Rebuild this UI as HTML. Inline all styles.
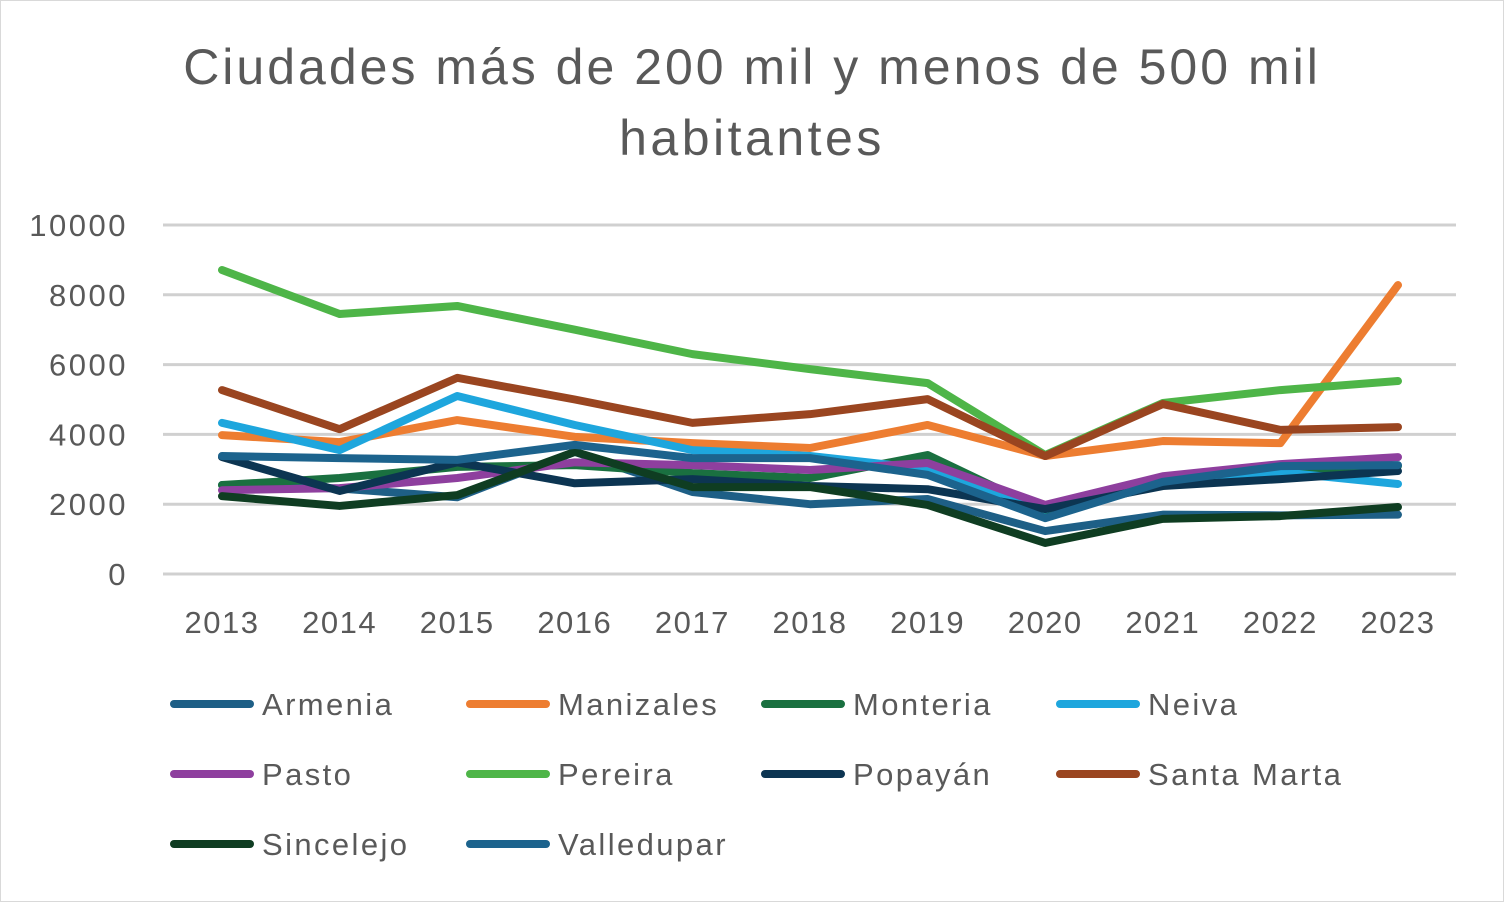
<!DOCTYPE html>
<html><head><meta charset="utf-8">
<style>
html,body{margin:0;padding:0;background:#fff;}
svg{display:block;font-family:"Liberation Sans",sans-serif;}
</style></head>
<body>
<svg id="chart" width="1504" height="902" viewBox="0 0 1504 902">
<rect x="0.5" y="0.5" width="1503" height="901" fill="#fff" stroke="#d9d9d9"/>
<text x="752" y="84" text-anchor="middle" font-size="50" letter-spacing="3" fill="#595959">Ciudades más de 200 mil y menos de 500 mil</text>
<text x="752" y="155" text-anchor="middle" font-size="50" letter-spacing="3.5" fill="#595959">habitantes</text>
<g id="grid"></g><g id="yt"></g><g id="xt"></g><g id="series"></g><g id="legend"></g>
</svg>
<script>
const years=["2013","2014","2015","2016","2017","2018","2019","2020","2021","2022","2023"];
const yTicks=[0,2000,4000,6000,8000,10000];
const names=["Armenia","Manizales","Monteria","Neiva","Pasto","Pereira","Popayán","Santa Marta","Sincelejo","Valledupar"];
const colors=["#1e5f86","#ed7d31","#1a7040","#1ea6dd","#8e3f9e","#4eb548","#0c3552","#9a4520","#0f3d22","#1c638d"];
const armenia=[2550,2450,2200,3500,2350,2000,2150,1230,1700,1680,1700];
const manizales=[3980,3780,4410,3930,3750,3610,4270,3380,3810,3750,8280];
const monteria=[2550,2750,3070,3120,2890,2750,3410,1800,2700,2900,3100];
const neiva=[4330,3550,5100,4270,3550,3380,3010,1850,2750,2920,2580];
const pasto=[2400,2460,2750,3200,3120,2980,3180,1980,2800,3150,3350];
const pereira=[8710,7450,7680,7000,6300,5870,5470,3410,4900,5270,5530];
const popayan=[3350,2380,3200,2600,2720,2520,2430,1860,2520,2720,2950];
const santaMarta=[5270,4150,5620,5000,4330,4580,5010,3380,4870,4130,4210];
const sincelejo=[2230,1950,2260,3500,2490,2490,1980,890,1580,1660,1920];
const valledupar=[3380,3320,3270,3700,3320,3320,2840,1600,2640,3090,3120];
const seriesData=[armenia,manizales,monteria,neiva,pasto,pereira,popayan,santaMarta,sincelejo,valledupar];
const NS="http://www.w3.org/2000/svg";
const X0=222,X1=1398,Y0=574,Y1=225,YMAX=10000;
const xs=i=>X0+(X1-X0)*i/(years.length-1);
const ys=v=>Y0-(Y0-Y1)*v/YMAX;
function mk(tag,attrs,parent){const e=document.createElementNS(NS,tag);for(const k in attrs)e.setAttribute(k,attrs[k]);parent.appendChild(e);return e;}
const grid=document.getElementById('grid'),yt=document.getElementById('yt'),xt=document.getElementById('xt'),ser=document.getElementById('series'),leg=document.getElementById('legend');
yTicks.forEach(t=>{
 const l=mk('line',{x1:163,x2:1456,y1:ys(t),y2:ys(t),stroke:'#d0d0d0','stroke-width':3},grid);
 
 
 const tx=mk('text',{x:128,y:ys(t)+11,'text-anchor':'end','font-size':31,'letter-spacing':2.5,fill:'#595959'},yt);
 tx.textContent=t;
 
 
});
years.forEach((y,i)=>{
 const tx=mk('text',{x:xs(i),y:633,'text-anchor':'middle','font-size':31,'letter-spacing':1.5,fill:'#595959'},xt);
 tx.textContent=y;
 
 
});
seriesData.forEach((d,s)=>{
 const p=mk('polyline',{points:d.map((v,i)=>xs(i)+','+ys(v)).join(' '),fill:'none',stroke:colors[s],'stroke-width':8,'stroke-linejoin':'round','stroke-linecap':'round'},ser);
 
 
});
const colX=[172,468,763,1058],rowY=[704,774,844];
names.forEach((n,s)=>{
 const cx=colX[s%4],cy=rowY[Math.floor(s/4)];
 const g=mk('g',{},leg);
 
 
 mk('line',{x1:cx+2,x2:cx+78,y1:cy,y2:cy,stroke:colors[s],'stroke-width':8,'stroke-linecap':'round'},g);
 const t=mk('text',{x:cx+90,y:cy+11,'font-size':31,'letter-spacing':2.4,fill:'#595959'},g);
 t.textContent=n;
});
</script>
</body></html>
